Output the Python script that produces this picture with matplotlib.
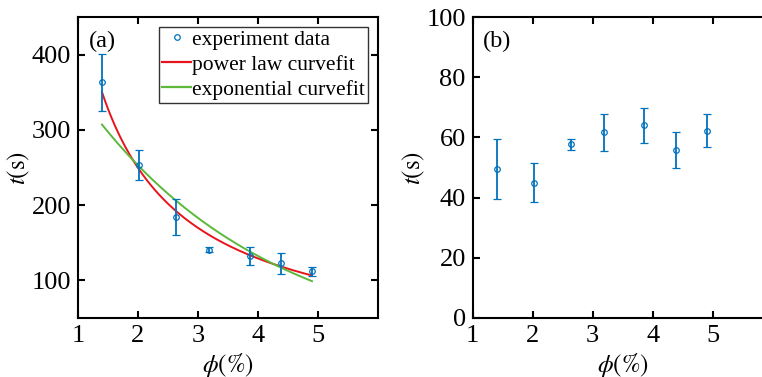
import matplotlib
matplotlib.use('Agg')
import matplotlib.pyplot as plt
from matplotlib.lines import Line2D
import numpy as np

plt.rcParams['font.family'] = 'Liberation Serif'
plt.rcParams['mathtext.fontset'] = 'stix'

# volume fraction (%)
phi = [1.40, 2.02, 2.64, 3.18, 3.86, 4.38, 4.90]

# panel (a): measured time and error
t_a = [363, 253, 184, 141, 133, 123, 112]
err_a = [38, 20, 24, 3.5, 12, 14, 6]

# panel (b)
t_b = [49.5, 45.0, 57.7, 61.7, 64.0, 55.7, 62.2]
err_b = [10.0, 6.5, 1.8, 6.1, 5.8, 6.0, 5.5]

# fit parameters
pow_a, pow_b = 482.0, -0.95      # t = a * phi^b
exp_A, exp_k = 483.0, 0.3236     # t = A * exp(-k*phi)

blue = '#0072BD'
red = '#E8141C'
green = '#5BB83A'
fs = 19
lab_fs = 18

fig = plt.figure(figsize=(7.62, 3.77), dpi=100)
W, H = 762, 377
ax1 = fig.add_axes([78 / W, (H - 318) / H, 300 / W, 301 / H])
ax2 = fig.add_axes([472.7 / W, (H - 318) / H, 300 / W, 301 / H])

def style(ax):
    ax.tick_params(direction='in', top=True, right=True, length=5, width=1.5,
                   labelsize=fs, pad=5)
    for s in ax.spines.values():
        s.set_linewidth(1.5)
    ax.set_xlim(1, 6)
    ax.set_xticks([1, 2, 3, 4, 5])
    ax.set_xlabel(r'$\phi(\%)$', fontsize=lab_fs)
    ax.set_ylabel(r'$t(\mathrm{s})$', fontsize=lab_fs)
    ax.xaxis.set_label_coords(0.5, -0.108)
    ax.yaxis.set_label_coords(-0.152, 0.5)

xf = np.linspace(phi[0], phi[-1], 200)
ax1.errorbar(phi, t_a, yerr=err_a, fmt='o', ms=4, mfc='none', mec=blue,
             mew=0.9, ecolor=blue, elinewidth=1.3, capsize=3, capthick=1.3,
             zorder=3)
ax1.plot(xf, pow_a * xf ** pow_b, color=red, lw=1.4)
ax1.plot(xf, exp_A * np.exp(-exp_k * xf), color=green, lw=1.4)
style(ax1)
ax1.set_ylim(50, 450)
ax1.set_yticks([100, 200, 300, 400])
handles = [Line2D([], [], ls='none', marker='o', ms=4, mfc='none', mec=blue, mew=0.9),
           Line2D([], [], color=red, lw=1.6),
           Line2D([], [], color=green, lw=1.6)]
labels = ['experiment data', 'power law curvefit', 'exponential curvefit']
leg = ax1.legend(handles, labels, loc='upper right', fontsize=15.5, frameon=True,
                 fancybox=False, edgecolor='black', borderpad=0.15,
                 handlelength=1.35, handletextpad=0.05, labelspacing=0.22,
                 borderaxespad=0.45)
leg.get_frame().set_linewidth(1.0)
ax1.text(0.035, 0.955, '(a)', transform=ax1.transAxes, fontsize=17.5, va='top')

ax2.errorbar(phi, t_b, yerr=err_b, fmt='o', ms=4, mfc='none', mec=blue,
             mew=0.9, ecolor=blue, elinewidth=1.3, capsize=3, capthick=1.3)
style(ax2)
ax2.set_ylim(0, 100)
ax2.set_yticks([0, 20, 40, 60, 80, 100])
ax2.text(0.035, 0.955, '(b)', transform=ax2.transAxes, fontsize=17.5, va='top')

fig.savefig('out.png', dpi=100)
